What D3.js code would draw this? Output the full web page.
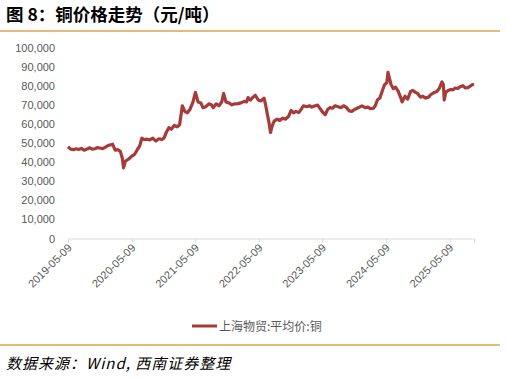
<!DOCTYPE html>
<html lang="zh">
<head>
    <meta charset="UTF-8">
    <title>铜价格走势</title>
    <script src="https://cdnjs.cloudflare.com/ajax/libs/d3/7.8.5/d3.min.js"></script>
    <style>
        body { margin: 0; padding: 0; background: #fff; }
        svg { display: block; }
        .axis text { font-family: "Liberation Sans", Arial, sans-serif; font-size: 11px; fill: #595959; }
    </style>
</head>
<body>
    <div id="chart"></div>

    <script>
        // 上海物贸:平均价:铜 (元/吨)
        const dates = [
            "2019-05-09","2019-05-24","2019-06-10","2019-06-25","2019-07-10","2019-07-25","2019-08-09","2019-08-26",
            "2019-09-10","2019-09-25","2019-10-10","2019-10-25","2019-11-08","2019-11-25","2019-12-10","2019-12-25",
            "2020-01-08","2020-01-20","2020-02-04","2020-02-20","2020-03-05","2020-03-16","2020-03-23","2020-04-03",
            "2020-04-20","2020-05-08","2020-05-25","2020-06-10","2020-06-24","2020-07-06","2020-07-20","2020-08-05",
            "2020-08-20","2020-09-07","2020-09-25","2020-10-12","2020-10-28","2020-11-10","2020-11-25","2020-12-08",
            "2020-12-22","2021-01-08","2021-01-25","2021-02-08","2021-02-24","2021-03-10","2021-03-25","2021-04-08",
            "2021-04-26","2021-05-10","2021-05-25","2021-06-10","2021-06-22","2021-07-08","2021-07-26","2021-08-10",
            "2021-08-20","2021-09-06","2021-09-22","2021-10-08","2021-10-19","2021-11-01","2021-11-18","2021-12-06",
            "2021-12-22","2022-01-10","2022-01-26","2022-02-14","2022-02-28","2022-03-08","2022-03-22","2022-04-06",
            "2022-04-19","2022-05-06","2022-05-20","2022-06-08","2022-06-17","2022-06-27","2022-07-06","2022-07-15",
            "2022-07-25","2022-08-05","2022-08-22","2022-09-06","2022-09-22","2022-10-10","2022-10-27","2022-11-10",
            "2022-11-25","2022-12-08","2022-12-26","2023-01-10","2023-01-20","2023-02-08","2023-02-24","2023-03-10",
            "2023-03-24","2023-04-12","2023-04-26","2023-05-12","2023-05-25","2023-06-08","2023-06-21","2023-07-06",
            "2023-07-21","2023-08-08","2023-08-24","2023-09-08","2023-09-22","2023-10-11","2023-10-25","2023-11-09",
            "2023-11-24","2023-12-08","2023-12-22","2024-01-10","2024-01-26","2024-02-08","2024-02-26","2024-03-08",
            "2024-03-20","2024-04-03","2024-04-18","2024-04-30","2024-05-13","2024-05-20","2024-05-28","2024-06-07",
            "2024-06-20","2024-07-03","2024-07-18","2024-08-02","2024-08-09","2024-08-26","2024-09-10","2024-09-27",
            "2024-10-10","2024-10-25","2024-11-08","2024-11-22","2024-12-06","2024-12-20","2025-01-08","2025-01-23",
            "2025-02-10","2025-02-25","2025-03-10","2025-03-26","2025-04-03","2025-04-08","2025-04-17","2025-04-30",
            "2025-05-15","2025-05-28","2025-06-10","2025-06-24","2025-07-08","2025-07-24","2025-08-08","2025-08-22",
            "2025-09-05","2025-09-15","2025-09-26"
        ];
        const prices = [
            48000,46800,46500,47000,46600,47200,46200,46800,
            47500,46800,47000,47600,47400,47000,47800,48700,
            49000,49400,46300,46500,45500,42000,37000,40500,
            41500,43000,44000,46500,48500,52500,51800,52000,
            51600,52500,51000,52200,51800,52500,55800,58000,
            57200,59200,58500,59600,69500,66500,65800,67500,
            71500,76500,71500,71000,68500,69000,70500,70000,
            68500,70500,69500,71500,76000,71500,71000,70000,
            70500,70600,71000,71800,71500,73800,72500,74000,
            75000,72500,72000,73500,70000,65000,61000,55500,
            59000,61500,62500,61800,63000,62500,64000,67000,
            65800,66500,66000,68000,69500,69000,69500,68800,
            69400,69800,68000,66000,64800,67500,68500,68200,
            69500,69000,68500,69500,68800,66800,66500,67500,
            68200,68800,69400,68500,68800,68000,68200,69500,
            72500,73500,77500,80500,81500,87000,84000,80500,
            78500,79200,77000,73500,71500,74500,73000,77000,
            77500,76500,75800,74000,74500,73500,74000,75500,
            76500,77000,78500,82000,80500,72500,76500,77500,
            78000,77800,78800,78500,79500,80000,78800,79000,
            79800,80500,80800
        ];
        const xTickDates = ["2019-05-09","2020-05-09","2021-05-09","2022-05-09","2023-05-09","2024-05-09","2025-05-09"];
        const yTicks = [0,10000,20000,30000,40000,50000,60000,70000,80000,90000,100000];
        const seriesName = "上海物贸:平均价:铜";

        const width = 507, height = 378;
        const parse = d3.timeParse("%Y-%m-%d");
        const data = dates.map((d, i) => ({ date: parse(d), value: prices[i] }));

        const svg = d3.select("#chart").append("svg")
            .attr("width", width)
            .attr("height", height);

        // title + rules
        svg.append("text")
            .attr("x", 6).attr("y", 21)
            .style("font-family", "'Noto Sans CJK SC', sans-serif")
            .style("font-weight", "bold")
            .style("font-size", "17.5px")
            .style("fill", "#000")
            .text("图 8：铜价格走势（元/吨）");
        svg.append("line").attr("x1", 0).attr("x2", 500).attr("y1", 31).attr("y2", 31)
            .attr("stroke", "#E0A24A").attr("stroke-width", 1.5);
        svg.append("line").attr("x1", 0).attr("x2", 500).attr("y1", 345).attr("y2", 345)
            .attr("stroke", "#E0A24A").attr("stroke-width", 1.5);

        const x = d3.scaleTime()
            .domain([parse("2019-05-09"), parse("2025-09-26")])
            .range([68, 474]);
        const y = d3.scaleLinear()
            .domain([0, 100000])
            .range([238.5, 47.5]);

        // y axis labels (no line)
        const yAxis = svg.append("g").attr("class", "axis")
            .attr("transform", "translate(55,0)")
            .call(d3.axisLeft(y).tickValues(yTicks).tickSize(0).tickPadding(0)
                .tickFormat(d3.format(",")));
        yAxis.select(".domain").remove();

        // x axis
        const xAxis = svg.append("g").attr("class", "axis")
            .attr("transform", "translate(0,238.5)")
            .call(d3.axisBottom(x).tickValues(xTickDates.map(parse)).tickSize(4)
                .tickFormat(d3.timeFormat("%Y-%m-%d")));
        xAxis.select(".domain").attr("stroke", "#d9d9d9");
        xAxis.selectAll(".tick line").attr("stroke", "#d9d9d9");
        xAxis.selectAll(".tick text")
            .attr("text-anchor", "end")
            .attr("dy", null)
            .attr("y", 0)
            .attr("transform", "translate(4,10) rotate(-45)");

        // series line
        const line = d3.line()
            .x(d => x(d.date))
            .y(d => y(d.value));
        svg.append("path")
            .datum(data)
            .attr("fill", "none")
            .attr("stroke", "#A63C3A")
            .attr("stroke-width", 3.2)
            .attr("stroke-linejoin", "round")
            .attr("d", line);

        // legend
        const legend = svg.append("g").attr("transform", "translate(192,326)");
        legend.append("line").attr("x1", 0).attr("x2", 25)
            .attr("stroke", "#A63C3A").attr("stroke-width", 3);
        legend.append("text").attr("x", 27).attr("y", 4.5)
            .style("font-family", "'Noto Sans CJK SC', sans-serif")
            .style("font-size", "12px")
            .style("fill", "#595959")
            .text(seriesName);

        // source
        svg.append("text")
            .attr("x", 6).attr("y", 369)
            .style("font-family", "'Noto Sans CJK SC', sans-serif")
            .style("font-style", "italic")
            .style("font-size", "15px")
            .style("letter-spacing", "1px")
            .style("fill", "#000")
            .text("数据来源：Wind, 西南证券整理");
    </script>
</body>
</html>
